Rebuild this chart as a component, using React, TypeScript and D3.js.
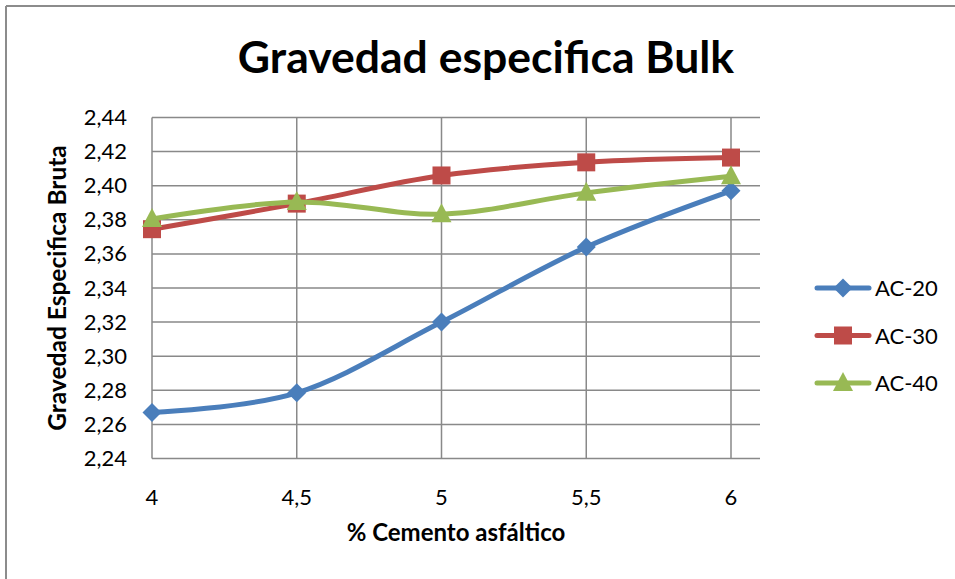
import React from "react";
import * as d3 from "d3";

const xValues = [4, 4.5, 5, 5.5, 6];
const xTickLabels = ["4", "4,5", "5", "5,5", "6"];
const yTicks = [2.24, 2.26, 2.28, 2.3, 2.32, 2.34, 2.36, 2.38, 2.4, 2.42, 2.44];
const seriesNames = ["AC-20", "AC-30", "AC-40"];
const ac20 = [2.267, 2.2785, 2.32, 2.364, 2.397];
const ac30 = [2.3745, 2.3895, 2.406, 2.4137, 2.4165];
const ac40 = [2.3805, 2.3905, 2.3833, 2.3958, 2.4055];
const colors = ["#4A7EBB", "#BE4B48", "#98B954"];
const markers = ["diamond", "square", "triangle"];

const FONT = "Lato, 'Open Sans', sans-serif";

function Marker({ type, x, y, color }: { type: string; x: number; y: number; color: string }) {
  if (type === "diamond") {
    const s = 9.5;
    return <path d={`M${x},${y - s}L${x + s},${y}L${x},${y + s}L${x - s},${y}Z`} fill={color} />;
  }
  if (type === "square") {
    const s = 9;
    return <rect x={x - s} y={y - s} width={2 * s} height={2 * s} fill={color} />;
  }
  return <path d={`M${x},${y - 11}L${x + 10},${y + 8}L${x - 10},${y + 8}Z`} fill={color} />;
}

export default function App() {
  const W = 955;
  const H = 579;
  const left = 152;
  const top = 117.5;
  const bottom = 458.5;
  const plotRight = 760;
  const x = d3.scaleLinear().domain([4, 6]).range([left, 731]);
  const y = d3.scaleLinear().domain([2.24, 2.44]).range([bottom, top]);
  const data = [ac20, ac30, ac40];
  const line = d3
    .line<number>()
    .x((_, i) => x(xValues[i]))
    .y((d) => y(d))
    .curve(d3.curveCardinal.tension(0));
  const fmt = (v: number) => v.toFixed(2).replace(".", ",");
  const grid = "#898989";
  return (
    <svg width={W} height={H} style={{ position: "absolute", left: 0, top: 0 }}>
      <rect x={0} y={0} width={W} height={H} fill="#fff" />
      <line x1={6} y1={6} x2={W} y2={6} stroke="#8c8c8c" strokeWidth={2} />
      <line x1={6} y1={6} x2={6} y2={H} stroke="#8c8c8c" strokeWidth={2} />
      <text x={486} y={73} textAnchor="middle" fontFamily={FONT} fontWeight="bold" fontSize={44.5} fill="#000">
        Gravedad especifica Bulk
      </text>
      {yTicks.map((t) => (
        <line key={"h" + t} x1={left} x2={plotRight} y1={y(t)} y2={y(t)} stroke={grid} strokeWidth={1.5} />
      ))}
      {xValues.map((v) => (
        <line key={"v" + v} x1={x(v)} x2={x(v)} y1={top} y2={bottom} stroke={grid} strokeWidth={1.5} />
      ))}
      {yTicks.map((t) => (
        <text key={"yl" + t} x={127} y={y(t) + 7.5} textAnchor="end" fontFamily={FONT} fontSize={22} fill="#000">
          {fmt(t)}
        </text>
      ))}
      {xValues.map((v, i) => (
        <text key={"xl" + v} x={x(v)} y={505} textAnchor="middle" fontFamily={FONT} fontSize={22} fill="#000">
          {xTickLabels[i]}
        </text>
      ))}
      <text x={456} y={541} textAnchor="middle" fontFamily={FONT} fontWeight="bold" fontSize={24} fill="#000">
        % Cemento asfáltico
      </text>
      <text
        transform={`translate(66,288) rotate(-90)`}
        textAnchor="middle"
        fontFamily={FONT}
        fontWeight="bold"
        fontSize={24.5}
        fill="#000"
      >
        Gravedad Especifica Bruta
      </text>
      {data.map((s, k) => (
        <g key={"s" + k}>
          <path d={line(s) || ""} fill="none" stroke={colors[k]} strokeWidth={5} strokeLinejoin="round" strokeLinecap="round" />
          {s.map((v, i) => (
            <Marker key={i} type={markers[k]} x={x(xValues[i])} y={y(v)} color={colors[k]} />
          ))}
        </g>
      ))}
      {seriesNames.map((n, k) => {
        const ly = 288 + k * 47.5;
        return (
          <g key={"lg" + n}>
            <line x1={817} x2={869} y1={ly} y2={ly} stroke={colors[k]} strokeWidth={5} strokeLinecap="round" />
            <Marker type={markers[k]} x={843} y={ly} color={colors[k]} />
            <text x={875} y={ly + 8} fontFamily={FONT} fontSize={22} fill="#000">
              {n}
            </text>
          </g>
        );
      })}
    </svg>
  );
}
